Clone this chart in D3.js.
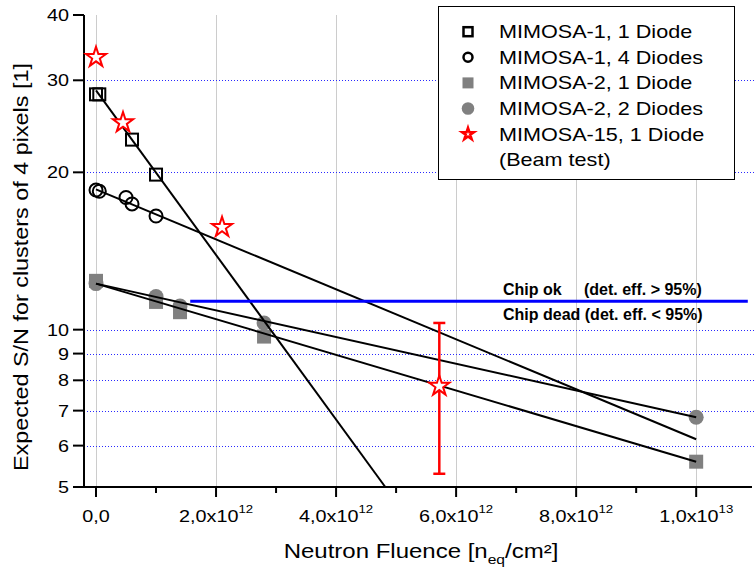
<!DOCTYPE html>
<html><head><meta charset="utf-8">
<script src="https://cdn.jsdelivr.net/npm/d3@7"></script>
<style>
body{margin:0;background:#fff}
svg{display:block}
text{font-family:"Liberation Sans",Arial,Helvetica,sans-serif;fill:#000}
</style>
</head><body>
<svg id="c" width="754" height="572"></svg>
<script>
// ---------------- data ----------------
const m1d1X = [0, 0.055e12, 0.6e12, 1.0e12];
const m1d1Y = [28.2, 28.2, 23.1, 19.8];
const m1d4X = [0, 0.055e12, 0.5e12, 0.6e12, 1.0e12];
const m1d4Y = [18.5, 18.4, 17.9, 17.4, 16.5];
const m2X = [0, 1.0e12, 1.4e12, 2.8e12, 1.0e13];
const m2d1Y = [12.4, 11.3, 10.8, 9.7, 5.59];
const m2d2Y = [12.25, 11.57, 11.1, 10.3, 6.8];
const m15X = [0, 0.45e12, 2.1e12, 5.72e12];
const m15Y = [33.2, 24.9, 15.7, 7.8];
const m15ErrLo = [null, null, null, 5.3];
const m15ErrHi = [null, null, null, 10.3];

// fitted lines (start / end)
const fitM1D1X = [0, 4.82e12], fitM1D1Y = [28.7, 5];
const fitM1D4X = [0, 1.0e13],  fitM1D4Y = [18.55, 6.17];
const fitM2D1X = [0, 1.0e13],  fitM2D1Y = [12.25, 5.59];
const fitM2D2X = [0, 1.0e13],  fitM2D2Y = [12.25, 6.8];

// chip threshold
const chipX = [1.57e12, 10.86e12];
const chipY = 11.33;

// ticks
const yTicks = [5, 6, 7, 8, 9, 10, 20, 30, 40];
const yGrid = [6, 7, 8, 9, 10, 20, 30];
const xMajor = [0, 2e12, 4e12, 6e12, 8e12, 1e13];
const xMinor = [1e12, 3e12, 5e12, 7e12, 9e12];
const xMant = ["0,0", "2,0x10", "4,0x10", "6,0x10", "8,0x10", "1,0x10"];
const xExp = ["", "12", "12", "12", "12", "13"];

const legendLabels = ["MIMOSA-1, 1 Diode", "MIMOSA-1, 4 Diodes", "MIMOSA-2, 1 Diode", "MIMOSA-2, 2 Diodes", "MIMOSA-15, 1 Diode", "(Beam test)"];

// ---------------- drawing ----------------
const svg = d3.select("#c");
const L = 84, R = 752, T = 15, B = 487;
const x = d3.scaleLinear().domain([-0.2e12, 10.93e12]).range([L, R]);
const y = d3.scaleLog().domain([5, 40]).range([B, T]);
const KX = 1.2;
const gray = "#808080";
const px = v => Math.round(v) + 0.5;

// vertical grid
svg.append("g").selectAll("line").data(xMajor).join("line")
  .attr("x1", d => px(x(d))).attr("x2", d => px(x(d))).attr("y1", T).attr("y2", B)
  .attr("stroke", "#cccccc").attr("stroke-width", 1);
// horizontal dotted grid
svg.append("g").selectAll("line").data(yGrid).join("line")
  .attr("x1", L).attr("x2", 754).attr("y1", d => px(y(d))).attr("y2", d => px(y(d)))
  .attr("stroke", "#2a2aff").attr("stroke-width", 1).attr("stroke-dasharray", "1,2");

// axes
const ax = svg.append("g");
ax.append("line").attr("x1", L).attr("x2", L).attr("y1", T).attr("y2", B + 1).attr("stroke", "#000").attr("stroke-width", 2);
ax.append("line").attr("x1", L - 1).attr("x2", R).attr("y1", B).attr("y2", B).attr("stroke", "#000").attr("stroke-width", 2);
ax.selectAll(".yt").data(yTicks).join("line").attr("class", "yt")
  .attr("x1", L - 11).attr("x2", L).attr("y1", d => y(d)).attr("y2", d => y(d))
  .attr("stroke", "#000").attr("stroke-width", 2);
ax.selectAll(".xt").data(xMajor).join("line").attr("class", "xt")
  .attr("x1", d => x(d)).attr("x2", d => x(d)).attr("y1", B).attr("y2", B + 10)
  .attr("stroke", "#000").attr("stroke-width", 2);
ax.selectAll(".xm").data(xMinor).join("line").attr("class", "xm")
  .attr("x1", d => x(d)).attr("x2", d => x(d)).attr("y1", B).attr("y2", B + 6)
  .attr("stroke", "#000").attr("stroke-width", 2);

// y tick labels
ax.selectAll(".yl").data(yTicks).join("text").attr("class", "yl")
  .attr("transform", d => `translate(${L - 15},${y(d)}) scale(${KX},1)`)
  .attr("text-anchor", "end").attr("dy", "0.36em").attr("font-size", 16.5)
  .text(d => d);

// x tick labels
const xl = ax.selectAll(".xl").data(xMajor).join("text").attr("class", "xl")
  .attr("transform", d => `translate(${x(d)},522) scale(${KX},1)`)
  .attr("text-anchor", "middle").attr("font-size", 16.5);
xl.append("tspan").text((d, i) => xMant[i]);
xl.append("tspan").attr("font-size", 11).attr("dy", -9).text((d, i) => xExp[i]);

// axis titles
const xt = svg.append("text")
  .attr("transform", `translate(421,558) scale(${KX},1)`)
  .attr("text-anchor", "middle").attr("font-size", 20);
xt.append("tspan").text("Neutron Fluence [n");
xt.append("tspan").attr("font-size", 13).attr("dy", 6).text("eq");
xt.append("tspan").attr("dy", -6).text("/cm²]");

svg.append("text")
  .attr("transform", `translate(28,267) rotate(-90) scale(${KX},1)`)
  .attr("text-anchor", "middle").attr("font-size", 19.5)
  .text("Expected S/N for clusters of 4 pixels [1]");

// markers: MIMOSA-2 (filled gray)
const plot = svg.append("g");
plot.selectAll(".m2s").data(m2d1Y).join("rect").attr("class", "m2s")
  .attr("x", (d, i) => x(m2X[i]) - 7).attr("y", d => y(d) - 7)
  .attr("width", 14).attr("height", 14).attr("fill", gray);
plot.selectAll(".m2c").data(m2d2Y).join("circle").attr("class", "m2c")
  .attr("cx", (d, i) => x(m2X[i])).attr("cy", d => y(d)).attr("r", 7.5).attr("fill", gray);

// MIMOSA-1 open markers
plot.selectAll(".m1s").data(m1d1Y).join("rect").attr("class", "m1s")
  .attr("x", (d, i) => x(m1d1X[i]) - 6).attr("y", d => y(d) - 6)
  .attr("width", 12).attr("height", 12).attr("fill", "none").attr("stroke", "#000").attr("stroke-width", 2);
plot.selectAll(".m1c").data(m1d4Y).join("circle").attr("class", "m1c")
  .attr("cx", (d, i) => x(m1d4X[i])).attr("cy", d => y(d)).attr("r", 6.5)
  .attr("fill", "none").attr("stroke", "#000").attr("stroke-width", 2);

// fit lines
const fits = [[fitM1D1X, fitM1D1Y], [fitM1D4X, fitM1D4Y], [fitM2D1X, fitM2D1Y], [fitM2D2X, fitM2D2Y]];
const lineGen = d3.line().x(d => x(d[0])).y(d => y(d[1]));
plot.selectAll(".fit").data(fits).join("path").attr("class", "fit")
  .attr("d", f => lineGen(f[0].map((v, i) => [v, f[1][i]])))
  .attr("fill", "none").attr("stroke", "#000").attr("stroke-width", 2);

// chip line and labels
plot.append("line").attr("x1", x(chipX[0])).attr("x2", x(chipX[1]))
  .attr("y1", y(chipY)).attr("y2", y(chipY)).attr("stroke", "#0000ff").attr("stroke-width", 3);
plot.append("text").attr("x", 503).attr("y", y(chipY) - 6.5).attr("font-size", 16).attr("font-weight", "bold").text("Chip ok");
plot.append("text").attr("x", 584).attr("y", y(chipY) - 6.5).attr("font-size", 16).attr("font-weight", "bold").text("(det. eff. > 95%)");
plot.append("text").attr("x", 503).attr("y", y(chipY) + 18.5).attr("font-size", 16).attr("font-weight", "bold").text("Chip dead (det. eff. < 95%)");

// error bars
const red = "#ff0000";
m15X.forEach((xv, i) => {
  if (m15ErrLo[i] == null) return;
  const g = plot.append("g").attr("stroke", red).attr("stroke-width", 2.5);
  g.append("line").attr("x1", x(xv)).attr("x2", x(xv)).attr("y1", y(m15ErrLo[i])).attr("y2", y(m15ErrHi[i]));
  g.append("line").attr("x1", x(xv) - 6).attr("x2", x(xv) + 6).attr("y1", y(m15ErrLo[i])).attr("y2", y(m15ErrLo[i]));
  g.append("line").attr("x1", x(xv) - 6).attr("x2", x(xv) + 6).attr("y1", y(m15ErrHi[i])).attr("y2", y(m15ErrHi[i]));
});
// stars
const star = d3.symbol().type(d3.symbolStar).size(125);
plot.selectAll(".st").data(m15Y).join("path").attr("class", "st")
  .attr("d", star).attr("transform", (d, i) => `translate(${x(m15X[i])},${y(d)})`)
  .attr("fill", "#fff").attr("stroke", red).attr("stroke-width", 2);

// legend
const lg = svg.append("g");
lg.append("rect").attr("x", 438.5).attr("y", 6.5).attr("width", 296).attr("height", 173)
  .attr("fill", "#fff").attr("stroke", "#000").attr("stroke-width", 1);
const rowY = i => 31.7 + i * 25.6;
const sx = 468;
lg.append("rect").attr("x", sx - 4.5).attr("y", rowY(0) - 4.5).attr("width", 9).attr("height", 9)
  .attr("fill", "none").attr("stroke", "#000").attr("stroke-width", 2.5);
lg.append("circle").attr("cx", sx).attr("cy", rowY(1)).attr("r", 4.5)
  .attr("fill", "none").attr("stroke", "#000").attr("stroke-width", 2.5);
lg.append("rect").attr("x", sx - 5.5).attr("y", rowY(2) - 5.5).attr("width", 11).attr("height", 11).attr("fill", gray);
lg.append("circle").attr("cx", sx).attr("cy", rowY(3)).attr("r", 6.3).attr("fill", gray);
lg.append("path").attr("d", d3.symbol().type(d3.symbolStar).size(45)())
  .attr("transform", `translate(${sx},${rowY(4)})`).attr("fill", "#fff").attr("stroke", red).attr("stroke-width", 2.5);
lg.selectAll(".lt").data(legendLabels).join("text").attr("class", "lt")
  .attr("transform", (d, i) => `translate(499,${rowY(i) + 6.5}) scale(${KX},1)`)
  .attr("font-size", 18).text(d => d);
</script>
</body></html>
